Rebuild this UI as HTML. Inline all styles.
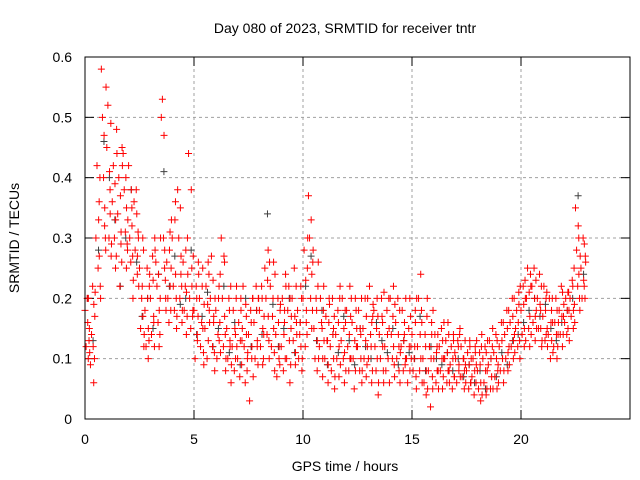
<!DOCTYPE html>
<html><head><meta charset="utf-8"><style>
body{margin:0;background:#fff}
svg{display:block;font-family:"Liberation Sans",sans-serif}
</style></head><body>
<svg id="chart" width="640" height="480">
<text x="345" y="33" font-size="14" text-anchor="middle">Day 080 of 2023, SRMTID for receiver tntr</text>
<text x="345" y="471" font-size="14" text-anchor="middle">GPS time / hours</text>
<text x="19" y="238" font-size="14" text-anchor="middle" transform="rotate(-90 19 238)">SRMTID / TECUs</text>
<g id="grid"></g><g id="ticks"></g><g id="black"></g><g id="red"></g>
<rect x="85" y="57" width="545" height="362" fill="none" stroke="#000" stroke-width="1"/>
</svg>
<script>
const xTicks=[0,5,10,15,20];
const yTicks=[0,0.1,0.2,0.3,0.4,0.5,0.6];
const yTickLabels=["0","0.1","0.2","0.3","0.4","0.5","0.6"];
const times=[0,0.25,0.5,0.75,1,1.25,1.5,1.75,2,2.25,2.5,2.75,3,3.25,3.5,3.75,4,4.25,4.5,4.75,5,5.25,5.5,5.75,6,6.25,6.5,6.75,7,7.25,7.5,7.75,8,8.25,8.5,8.75,9,9.25,9.5,9.75,10,10.25,10.5,10.75,11,11.25,11.5,11.75,12,12.25,12.5,12.75,13,13.25,13.5,13.75,14,14.25,14.5,14.75,15,15.25,15.5,15.75,16,16.25,16.5,16.75,17,17.25,17.5,17.75,18,18.25,18.5,18.75,19,19.25,19.5,19.75,20,20.25,20.5,20.75,21,21.25,21.5,21.75,22,22.25,22.5,22.75];
const redVals=[[.18,.12,.2,.1,.15],[.09,.14,.22,.06,.17],[.3,.42,.25,.36,.22],[.58,.5,.4,.32,.28],[.45,.52,.3,.38,.27],[.36,.42,.3,.25,.48],[.34,.4,.22,.29,.45],[.44,.38,.31,.25,.28],[.42,.3,.26,.35,.2],[.36,.28,.38,.24,.3],[.25,.15,.2,.3,.12],[.18,.12,.25,.1,.22],[.2,.14,.27,.17,.3],[.26,.22,.16,.12,.2],[.5,.53,.3,.25,.2],[.26,.2,.16,.31,.25],[.3,.22,.18,.36,.15],[.38,.3,.2,.24,.16],[.26,.18,.22,.14,.3],[.44,.2,.15,.25,.18],[.18,.1,.22,.14,.26],[.2,.12,.16,.25,.09],[.15,.22,.1,.26,.18],[.2,.27,.12,.16,.08],[.18,.1,.14,.22,.24],[.3,.2,.12,.26,.08],[.15,.1,.2,.13,.06],[.12,.18,.08,.14,.22],[.1,.16,.07,.2,.13],[.22,.12,.06,.17,.1],[.14,.03,.18,.1,.2],[.16,.1,.22,.12,.2],[.18,.12,.22,.09,.14],[.25,.2,.14,.28,.1],[.22,.12,.17,.26,.08],[.14,.07,.2,.1,.18],[.12,.2,.08,.16,.24],[.1,.18,.22,.06,.15],[.2,.13,.25,.09,.16],[.18,.1,.14,.22,.08],[.2,.28,.12,.16,.25],[.37,.3,.2,.15,.26],[.15,.1,.2,.08,.26],[.12,.2,.16,.07,.22],[.1,.17,.13,.06,.2],[.12,.08,.2,.15,.05],[.14,.1,.18,.07,.22],[.13,.2,.1,.06,.16],[.18,.12,.08,.22,.1],[.16,.1,.05,.2,.12],[.12,.18,.08,.14,.06],[.15,.1,.2,.07,.12],[.1,.22,.14,.06,.17],[.18,.12,.08,.2,.04],[.14,.1,.2,.16,.06],[.12,.08,.18,.1,.15],[.2,.14,.1,.22,.07],[.16,.1,.2,.12,.06],[.12,.18,.08,.14,.1],[.1,.06,.15,.2,.12],[.14,.08,.1,.18,.05],[.12,.2,.08,.24,.16],[.1,.06,.14,.04,.2],[.08,.12,.02,.16,.05],[.1,.14,.06,.12,.08],[.12,.08,.15,.05,.1],[.1,.13,.06,.16,.08],[.09,.12,.05,.14,.07],[.1,.06,.13,.08,.15],[.12,.07,.1,.05,.09],[.08,.11,.05,.13,.06],[.07,.1,.04,.12,.09],[.08,.05,.11,.03,.14],[.1,.06,.12,.04,.08],[.09,.13,.05,.07,.15],[.11,.07,.14,.05,.09],[.12,.08,.16,.1,.06],[.14,.1,.18,.08,.12],[.16,.12,.2,.1,.14],[.15,.18,.12,.21,.1],[.18,.14,.22,.12,.2],[.2,.25,.15,.12,.22],[.22,.16,.25,.13,.18],[.2,.15,.24,.18,.12],[.17,.22,.13,.2,.15],[.14,.2,.1,.18,.16],[.12,.16,.2,.1,.14],[.18,.14,.22,.12,.17],[.16,.2,.14,.21,.18],[.2,.17,.23,.15,.19],[.35,.28,.22,.3,.18],[.25,.2,.3,.22,.27]];
const redVals2=[[.16,.2,.13,.11],[.12,.19,.1,.21],[.33,.27,.4,.2],[.47,.35,.3,.55],[.41,.34,.49,.29],[.39,.33,.27,.44],[.37,.31,.26,.42],[.4,.35,.29,.33],[.38,.32,.27,.23],[.34,.27,.31,.22],[.22,.17,.28,.14],[.2,.15,.13,.24],[.23,.16,.12,.28],[.24,.18,.14,.3],[.47,.28,.23,.18],[.28,.22,.18,.33],[.33,.24,.2,.17],[.35,.27,.22,.18],[.28,.21,.17,.24],[.38,.22,.17,.27],[.2,.13,.17,.24],[.22,.15,.11,.19],[.19,.13,.24,.16],[.23,.17,.11,.2],[.2,.13,.16,.11],[.27,.17,.14,.1],[.18,.12,.22,.09],[.15,.1,.2,.12],[.13,.18,.09,.15],[.19,.14,.08,.11],[.16,.12,.2,.07],[.18,.13,.09,.2],[.2,.15,.1,.17],[.23,.17,.13,.26],[.2,.15,.11,.24],[.16,.12,.09,.19],[.14,.18,.1,.22],[.13,.2,.09,.17],[.17,.11,.22,.14],[.16,.12,.2,.1],[.23,.18,.14,.3],[.33,.24,.18,.28],[.18,.13,.22,.1],[.15,.1,.18,.13],[.13,.09,.16,.19],[.14,.1,.17,.07],[.16,.12,.2,.09],[.15,.11,.18,.08],[.14,.1,.17,.2],[.13,.08,.18,.15],[.15,.1,.2,.08],[.13,.17,.09,.2],[.12,.16,.08,.19],[.15,.1,.17,.06],[.17,.12,.08,.21],[.14,.1,.2,.06],[.17,.12,.09,.19],[.14,.08,.18,.11],[.13,.16,.09,.2],[.12,.08,.17,.1],[.12,.16,.07,.2],[.14,.1,.18,.06],[.12,.08,.17,.05],[.1,.14,.07,.18],[.11,.08,.14,.05],[.1,.13,.07,.16],[.11,.08,.14,.06],[.1,.13,.07,.11],[.12,.09,.14,.07],[.1,.08,.13,.06],[.09,.12,.06,.1],[.08,.11,.06,.13],[.09,.06,.12,.04],[.08,.11,.05,.13],[.1,.07,.12,.05],[.1,.13,.08,.06],[.13,.1,.16,.08],[.15,.11,.18,.09],[.17,.13,.2,.11],[.16,.19,.13,.22],[.19,.15,.23,.13],[.21,.17,.24,.14],[.2,.17,.23,.15],[.19,.15,.22,.13],[.18,.14,.21,.12],[.16,.13,.2,.11],[.14,.18,.12,.16],[.17,.21,.14,.19],[.18,.15,.21,.13],[.22,.18,.25,.16],[.32,.24,.2,.27],[.23,.29,.2,.26]];
const blackVals=[.2,.13,.28,.46,.4,.33,.22,.3,.38,.26,.17,.2,.15,.24,.41,.22,.27,.19,.2,.28,.14,.17,.21,.12,.15,.22,.11,.16,.09,.2,.12,.18,.14,.34,.19,.12,.15,.2,.11,.16,.22,.27,.13,.18,.09,.14,.11,.17,.13,.09,.15,.12,.1,.16,.13,.11,.15,.09,.13,.11,.1,.17,.08,.12,.1,.09,.11,.08,.1,.07,.09,.06,.08,.05,.1,.07,.11,.09,.13,.14,.16,.18,.2,.17,.19,.15,.13,.16,.18,.2,.37,.24];
const X=t=>85+t*(545/25), Y=v=>419-v*(362/0.6);
const NS="http://www.w3.org/2000/svg";
function mk(tag,parent,attrs){const e=document.createElementNS(NS,tag);for(const k in attrs)e.setAttribute(k,attrs[k]);parent.appendChild(e);return e;}
const grid=document.getElementById('grid'),ticks=document.getElementById('ticks');
xTicks.forEach(t=>{
  if(t>0){const g=mk('line',grid,{x1:X(t),x2:X(t),y1:57,y2:419,stroke:'#a0a0a0','stroke-dasharray':'3,3'});
  
  }
  mk('line',ticks,{x1:X(t),x2:X(t),y1:419,y2:410,stroke:'#000'});
  mk('line',ticks,{x1:X(t),x2:X(t),y1:57,y2:66,stroke:'#000'});
  const l=mk('text',ticks,{x:X(t),y:444,'font-size':14,'text-anchor':'middle'});l.textContent=t;
  
  
});
yTicks.forEach((v,i)=>{
  if(v>0&&v<0.6){const g=mk('line',grid,{x1:85,x2:630,y1:Y(v),y2:Y(v),stroke:'#a0a0a0','stroke-dasharray':'3,3'});
  
  }
  mk('line',ticks,{x1:85,x2:94,y1:Y(v),y2:Y(v),stroke:'#000'});
  mk('line',ticks,{x1:630,x2:621,y1:Y(v),y2:Y(v),stroke:'#000'});
  const l=mk('text',ticks,{x:72,y:Y(v)+5,'font-size':14,'text-anchor':'end'});l.textContent=yTickLabels[i];
  
  
});
function plus(x,y){return `M${x-3.5},${y}h7M${x},${y-3.5}v7`;}
let db='';times.forEach((t,i)=>{db+=plus(X(t+0.12),Y(blackVals[i]));});
const bp=mk('path',document.getElementById('black'),{d:db,stroke:'#404040','stroke-width':1,fill:'none'});


let dr='';
times.forEach((t,i)=>{redVals[i].forEach((v,j)=>{dr+=plus(X(t+j*0.05),Y(v));});});
times.forEach((t,i)=>{redVals2[i].forEach((v,j)=>{dr+=plus(X(t+0.125+j*0.03),Y(v));});});
const rp=mk('path',document.getElementById('red'),{d:dr,stroke:'#ff0000','stroke-width':1,fill:'none'});


</script>
</body></html>
